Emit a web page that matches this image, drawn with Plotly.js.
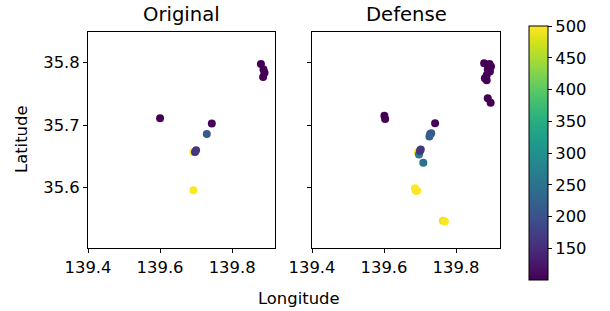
<!DOCTYPE html>
<html><head><meta charset="utf-8">
<script src="https://cdn.plot.ly/plotly-3.0.1.min.js"></script>
<style>html,body{margin:0;padding:0;background:#fff}</style>
</head><body><div id="chart" style="width:610px;height:311px"></div>
<script>
// Original
const lonOrig = [139.6925, 139.600, 139.7436, 139.7297, 139.697, 139.700, 139.6925, 139.880, 139.887, 139.890, 139.886];
const latOrig = [35.657, 35.711, 35.7026, 35.686, 35.657, 35.660, 35.596, 35.798, 35.789, 35.784, 35.777];
const valOrig = [500, 100, 105, 215, 150, 165, 500, 100, 100, 100, 100];
// Defense
const lonDef = [139.694, 139.696, 139.697, 139.700, 139.702, 139.601, 139.603, 139.7417, 139.728, 139.731, 139.726, 139.709, 139.686, 139.692, 139.688, 139.763, 139.769, 139.878, 139.893, 139.897, 139.888, 139.880, 139.885, 139.894, 139.885, 139.888, 139.896];
const latDef = [35.657, 35.654, 35.653, 35.659, 35.661, 35.715, 35.710, 35.703, 35.686, 35.687, 35.682, 35.640, 35.599, 35.595, 35.595, 35.547, 35.546, 35.799, 35.798, 35.794, 35.789, 35.775, 35.772, 35.786, 35.780, 35.743, 35.736];
const valDef = [500, 480, 260, 150, 160, 100, 100, 105, 215, 210, 220, 250, 500, 500, 500, 490, 500, 100, 100, 100, 100, 100, 100, 100, 100, 100, 100];
const xTicks = [139.4, 139.6, 139.8];
const yTicks = [35.6, 35.7, 35.8];
const cTicks = [150, 200, 250, 300, 350, 400, 450, 500];

const font = {family: 'DejaVu Sans', size: 16.4, color: '#000'};
const titleFont = {family: 'DejaVu Sans', size: 19.6, color: '#000'};
const axBase = {showline: true, mirror: true, linecolor: '#000', linewidth: 1, ticks: 'outside', ticklen: 4, tickwidth: 1, tickcolor: '#000', showgrid: false, zeroline: false, tickfont: font};

const traces = [
  {type: 'scatter', mode: 'markers', x: lonOrig, y: latOrig, xaxis: 'x', yaxis: 'y',
   marker: {size: 8, color: valOrig, coloraxis: 'coloraxis', line: {width: 0}}, hoverinfo: 'none'},
  {type: 'scatter', mode: 'markers', x: lonDef, y: latDef, xaxis: 'x2', yaxis: 'y2',
   marker: {size: 8, color: valDef, coloraxis: 'coloraxis', line: {width: 0}}, hoverinfo: 'none'}
];

const layout = {
  width: 610, height: 311, margin: {l: 0, r: 0, t: 0, b: 0},
  paper_bgcolor: '#fff', plot_bgcolor: '#fff', showlegend: false, font: font,
  xaxis: Object.assign({}, axBase, {domain: [88/610, 275/610], range: [139.4, 139.919], tickvals: xTicks, ticktext: xTicks.map(v => v.toFixed(1))}),
  yaxis: Object.assign({}, axBase, {domain: [63/311, 279/311], range: [35.5035, 35.849], tickvals: yTicks, ticktext: yTicks.map(v => v.toFixed(1))}),
  xaxis2: Object.assign({}, axBase, {domain: [312/610, 500/610], range: [139.4, 139.922], tickvals: xTicks, ticktext: xTicks.map(v => v.toFixed(1))}),
  yaxis2: Object.assign({}, axBase, {domain: [63/311, 279/311], range: [35.5035, 35.849], tickvals: yTicks, showticklabels: false, anchor: 'x2'}),
  coloraxis: {cmin: 100, cmax: 500, colorscale: 'Viridis',
    colorbar: {x: 529/610, xanchor: 'left', xpad: 0, ypad: 0, thickness: 19, thicknessmode: 'pixels',
      len: 254/311, lenmode: 'fraction', y: 1 - 153/311, yanchor: 'middle',
      outlinewidth: 1, outlinecolor: '#000', ticks: 'outside', ticklen: 4, tickcolor: '#000',
      tickvals: cTicks, tickfont: font}},
  annotations: [
    {text: 'Original', x: (88+275)/2/610, y: 1 - 15/311, xref: 'paper', yref: 'paper', xanchor: 'center', yanchor: 'middle', showarrow: false, font: titleFont},
    {text: 'Defense', x: (312+500)/2/610, y: 1 - 15/311, xref: 'paper', yref: 'paper', xanchor: 'center', yanchor: 'middle', showarrow: false, font: titleFont},
    {text: 'Longitude', x: 299/610, y: 1 - 298/311, xref: 'paper', yref: 'paper', xanchor: 'center', yanchor: 'middle', showarrow: false, font: font},
    {text: 'Latitude', x: 22/610, y: 1 - 140/311, xref: 'paper', yref: 'paper', xanchor: 'center', yanchor: 'middle', showarrow: false, textangle: -90, font: font}
  ]
};
Plotly.newPlot('chart', traces, layout, {staticPlot: true, displayModeBar: false});
</script></body></html>
